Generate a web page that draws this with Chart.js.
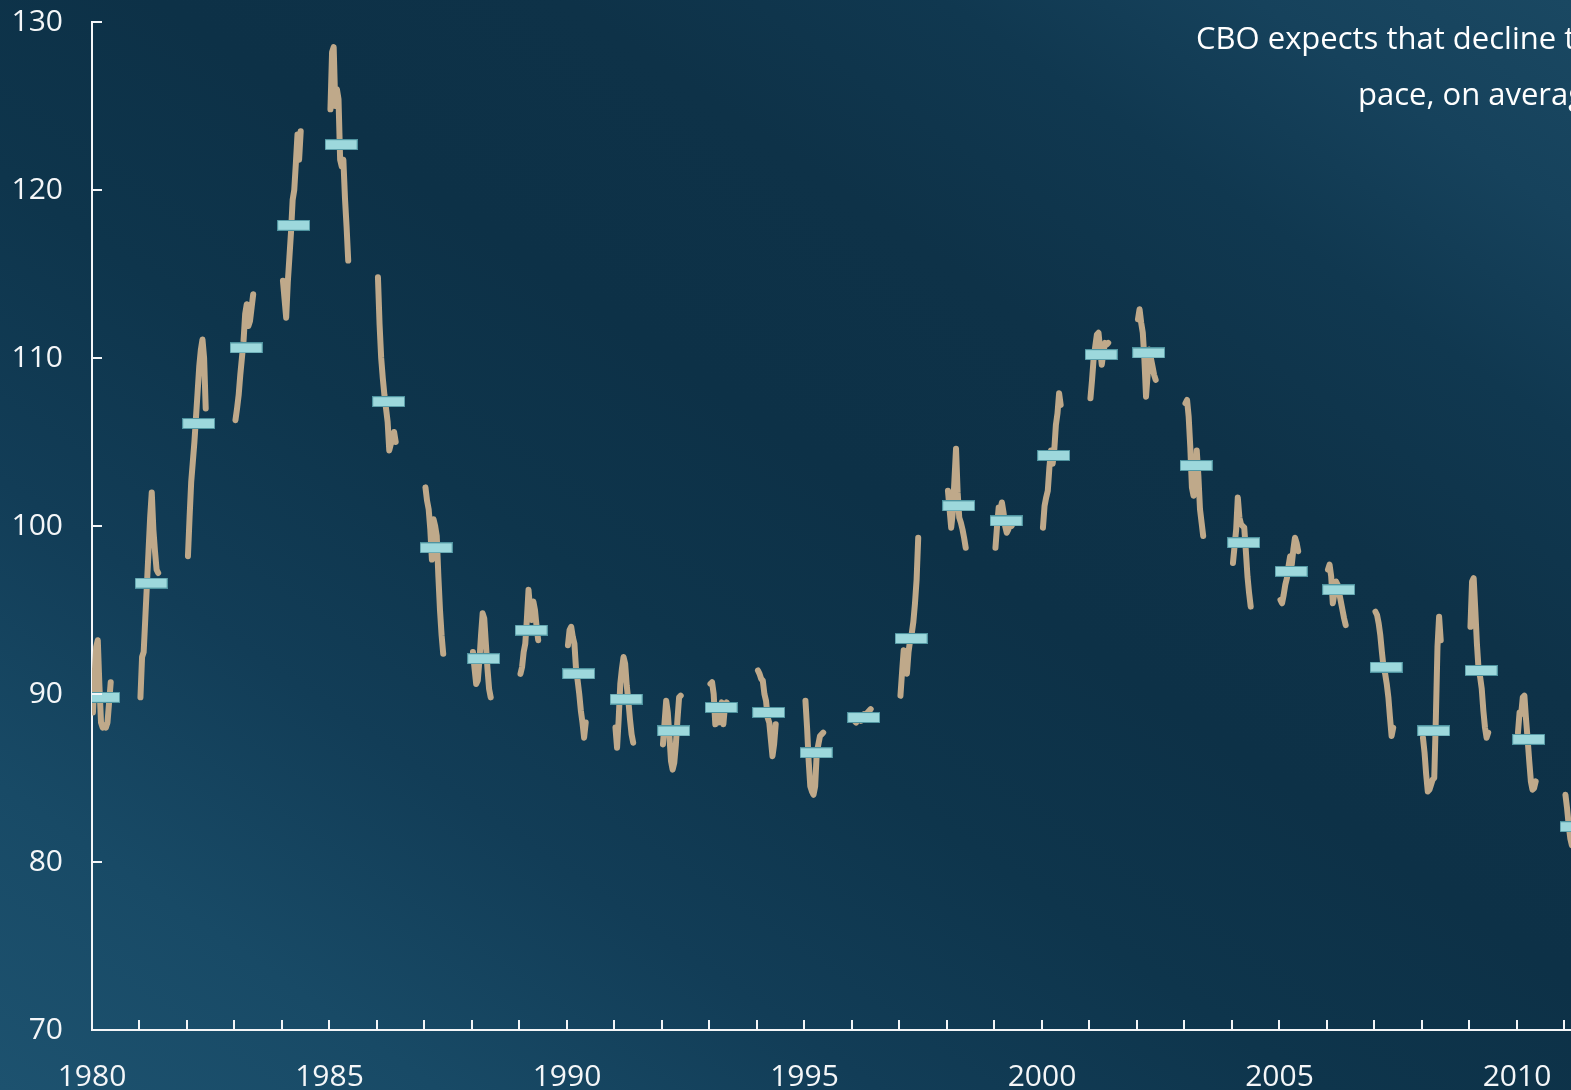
<!DOCTYPE html>
<html><head><meta charset="utf-8">
<script src="https://cdn.jsdelivr.net/npm/chart.js@4.4.1/dist/chart.umd.min.js"></script>
<style>
html,body{margin:0;padding:0;width:1571px;height:1090px;overflow:hidden;}
body{background:linear-gradient(to top right,#1d526f 0%,#184a66 14%,#123d57 28%,#0e354c 42%,#0d3147 55%,#0e3248 68%,#103850 80%,#16425c 90%,#1a4862 100%);font-family:'Open Sans',sans-serif;}
#wrap{position:absolute;left:0;top:0;width:1571px;height:1090px;}
.note{position:absolute;color:#fff;font-size:31px;line-height:31px;white-space:nowrap;}
</style></head><body>
<div id="wrap"><canvas id="c" width="1571" height="1090"></canvas></div>
<div class="note" style="left:1196px;top:22px">CBO expects that decline to</div>
<div class="note" style="left:1358px;top:78px">pace, on average,</div>
<script>
const years = [1980,1981,1982,1983,1984,1985,1986,1987,1988,1989,1990,1991,1992,1993,1994,1995,1996,1997,1998,1999,2000,2001,2002,2003,2004,2005,2006,2007,2008,2009,2010,2011];
const annualAverage = [89.8,96.6,106.1,110.6,117.9,122.7,107.4,98.7,92.1,93.8,91.2,89.7,87.8,89.2,88.9,86.5,88.6,93.3,101.2,100.3,104.2,110.2,110.3,103.6,99.0,97.3,96.2,91.6,87.8,91.4,87.3,82.1];
const monthlyIndex = [
 [88.9,91.0,92.8,93.2,90.5,88.3,88.0,88.1,88.0,88.3,89.5,90.7],
 [89.8,92.2,92.5,94.5,96.5,98.5,100.5,102.0,99.8,98.5,97.4,97.2],
 [98.2,100.5,102.6,103.8,105.0,106.5,108.0,109.5,110.5,111.1,110.0,107.0],
 [106.3,107.0,107.8,109.0,110.0,111.0,112.6,113.2,111.9,112.2,113.0,113.8],
 [114.6,113.5,112.4,114.5,116.0,117.5,119.4,120.0,121.6,123.3,121.8,123.5],
 [124.8,128.2,128.5,125.0,126.0,125.4,121.8,121.4,121.8,119.5,117.8,115.8],
 [114.8,112.0,110.0,108.8,107.8,107.0,106.2,104.5,104.9,105.1,105.6,105.0],
 [102.3,101.5,101.0,99.8,98.0,100.4,100.0,99.4,97.0,95.0,93.5,92.4],
 [92.5,91.5,90.6,90.8,92.0,93.5,94.8,94.5,93.0,91.5,90.3,89.8],
 [91.2,91.6,92.5,93.0,94.5,96.2,95.0,94.4,95.5,95.0,94.0,93.2],
 [92.9,93.8,94.0,93.4,93.0,91.5,90.8,90.0,89.0,88.3,87.4,88.3],
 [88.0,86.8,88.5,90.6,91.5,92.2,91.8,90.5,89.6,88.5,87.6,87.1],
 [87.0,88.3,89.6,88.9,87.5,86.0,85.5,85.9,87.0,88.5,89.8,89.9],
 [90.6,90.7,90.0,88.2,88.9,88.3,89.0,89.5,88.2,89.3,89.5,89.3],
 [91.4,91.2,90.9,90.8,90.0,89.6,88.6,88.3,87.3,86.3,87.0,88.2],
 [89.6,88.0,86.0,84.5,84.2,84.0,84.5,86.5,87.0,87.5,87.6,87.7],
 [88.5,88.4,88.3,88.5,88.6,88.4,88.5,88.8,88.5,88.9,89.0,89.1],
 [89.9,91.3,92.6,91.8,91.2,92.5,93.2,93.6,94.3,95.4,96.8,99.3],
 [102.1,101.0,99.9,100.8,102.7,104.6,102.0,100.5,100.2,99.8,99.3,98.7],
 [98.7,100.0,101.1,101.0,101.4,100.8,100.0,99.6,99.8,100.2,100.0,100.2],
 [99.9,101.2,101.7,102.1,103.5,104.5,103.7,104.5,106.0,106.7,107.9,107.2],
 [107.6,108.7,110.0,110.7,111.4,111.5,110.5,109.6,110.3,110.9,110.8,110.9],
 [112.3,112.9,112.1,111.5,109.9,107.7,109.0,110.5,110.0,109.5,109.0,108.7],
 [107.3,107.5,106.5,104.7,102.3,101.8,102.5,104.5,103.0,101.0,100.2,99.4],
 [97.8,98.8,99.8,101.7,100.5,100.1,100.0,99.9,98.5,97.0,96.0,95.2],
 [95.6,95.4,95.9,96.5,96.9,97.6,98.2,97.7,98.6,99.3,99.0,98.5],
 [97.4,97.7,97.0,95.4,96.0,96.7,96.5,96.0,95.5,95.0,94.5,94.1],
 [94.9,94.7,94.2,93.5,92.5,91.6,91.2,90.6,89.8,88.6,87.5,88.0],
 [87.4,86.5,85.2,84.2,84.3,84.6,84.9,85.0,88.6,92.8,94.6,93.2],
 [94.0,96.7,96.9,95.0,93.0,91.5,91.0,90.3,89.0,88.0,87.4,87.7],
 [87.7,88.9,88.8,89.8,89.9,88.5,87.3,86.0,84.8,84.3,84.4,84.8],
 [84.0,83.2,82.2,81.4,81.0,80.8,80.5,80.5,81.0,81.8,82.0,82.3]
];
const yTicks = [70,80,90,100,110,120,130];
const xLabelEvery = 5;

// layout / style constants
const PX_PER_YEAR = 47.5, AXIS_LEFT = 92, CANVAS_W = 1571;
const MONTH_START = 0.02, MONTH_STEP = 0.034, BAR_OFFSET = 0.245;

const linePoints = [];
years.forEach((yr, i) => {
  monthlyIndex[i].forEach((v, m) => linePoints.push({x: yr + MONTH_START + m * MONTH_STEP, y: v}));
  linePoints.push({x: yr + 0.7, y: null});
});
const avgPoints = years.map((yr, i) => ({x: yr + BAR_OFFSET, y: annualAverage[i]}));

const barImg = document.createElement('canvas');
barImg.width = 33; barImg.height = 11;
{ const g = barImg.getContext('2d');
  g.fillStyle = '#9dd8dc'; g.fillRect(0, 0, 33, 11);
  g.strokeStyle = 'rgba(70,140,152,0.9)'; g.lineWidth = 1; g.strokeRect(0.5, 0.5, 32, 10); }

const innerTicks = {
  id: 'innerTicks',
  afterDraw(chart) {
    const {ctx, chartArea, scales: {x, y}} = chart;
    ctx.save();
    ctx.strokeStyle = '#f4f6f8'; ctx.lineWidth = 2;
    ctx.beginPath();
    x.ticks.forEach(t => { const p = Math.round(x.getPixelForValue(t.value)); ctx.moveTo(p, chartArea.bottom); ctx.lineTo(p, chartArea.bottom - 10); });
    y.ticks.forEach(t => { const p = Math.round(y.getPixelForValue(t.value)); ctx.moveTo(chartArea.left, p); ctx.lineTo(chartArea.left + 10, p); });
    ctx.stroke();
    ctx.restore();
  }
};

Chart.defaults.font.family = "'Open Sans', sans-serif";
Chart.defaults.color = '#f4f6f8';

new Chart(document.getElementById('c'), {
  type: 'line',
  data: {
    datasets: [
      {
        label: 'Annual average', data: avgPoints, showLine: false, order: 0,
        pointStyle: barImg, pointRadius: 16, pointHoverRadius: 16
      },
      {
        label: 'Monthly', data: linePoints, order: 1, spanGaps: false,
        borderColor: '#bfa98a', borderWidth: 6, tension: 0,
        borderCapStyle: 'round', borderJoinStyle: 'round', pointRadius: 0, pointHoverRadius: 0
      }
    ]
  },
  options: {
    responsive: false, animation: false,
    layout: {autoPadding: false, padding: {top: 22, left: 0, right: 0, bottom: 0}},
    plugins: {legend: {display: false}, tooltip: {enabled: false}},
    scales: {
      x: {
        type: 'linear', min: years[0], max: years[0] + (CANVAS_W - AXIS_LEFT) / PX_PER_YEAR,
        afterBuildTicks: s => { s.ticks = years.map(v => ({value: v})); },
        afterFit: s => { s.height = 60; },
        grid: {display: true, drawOnChartArea: false, drawTicks: true, tickLength: 29, tickColor: 'rgba(0,0,0,0)'},
        border: {display: true, color: '#f4f6f8', width: 2},
        ticks: {autoSkip: false, maxRotation: 0, padding: 0, font: {size: 30},
          callback: v => (v % xLabelEvery === 0 ? String(v) : '')}
      },
      y: {
        min: yTicks[0], max: yTicks[yTicks.length - 1],
        afterBuildTicks: s => { s.ticks = yTicks.map(v => ({value: v})); },
        afterFit: s => { s.width = AXIS_LEFT; },
        grid: {display: true, drawOnChartArea: false, drawTicks: true, tickLength: 29, tickColor: 'rgba(0,0,0,0)'},
        border: {display: true, color: '#f4f6f8', width: 2},
        ticks: {padding: 0, font: {size: 30}}
      }
    }
  },
  plugins: [innerTicks]
});
</script>
</body></html>
